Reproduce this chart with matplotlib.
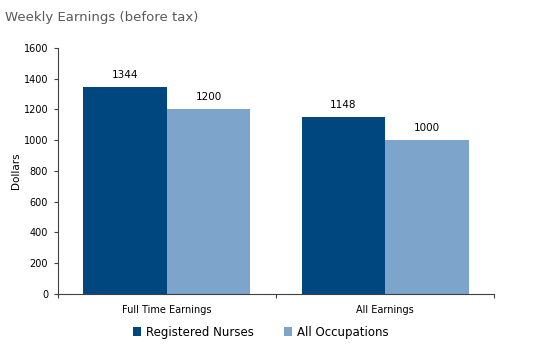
import numpy as np
import matplotlib.pyplot as plt

categories = ['Full Time Earnings', 'All Earnings']
nurses = [1344, 1148]
all_occ = [1200, 1000]
yticks = [0, 200, 400, 600, 800, 1000, 1200, 1400, 1600]

dark = '#00477F'
light = '#7DA4CA'

fig = plt.figure(figsize=(5.57, 3.47), dpi=100)
ax = fig.add_axes([0.104, 0.153, 0.783, 0.709])

x = np.arange(len(categories))
w = 0.383
b1 = ax.bar(x - w / 2, nurses, w, color=dark, label='Registered Nurses')
b2 = ax.bar(x + w / 2, all_occ, w, color=light, label='All Occupations')

for bars in (b1, b2):
    for r in bars:
        ax.text(r.get_x() + r.get_width() / 2, r.get_height() + 45, f'{int(r.get_height())}',
                ha='center', va='bottom', fontsize=7.5, color='black')

ax.set_xlim(-0.5, 1.5)
ax.set_ylim(0, 1600)
ax.set_yticks(yticks)
ax.tick_params(axis='y', labelsize=7, length=3, width=0.8, color='#404040', pad=4)
ax.set_xticks([-0.5, 0.5, 1.5])
ax.set_xticklabels([])
ax.set_xticks(x, minor=True)
ax.set_xticklabels(categories, minor=True)
ax.tick_params(axis='x', which='major', length=3, width=0.8, color='#404040')
ax.tick_params(axis='x', which='minor', length=0, labelsize=7, pad=8)

for s in ['top', 'right']:
    ax.spines[s].set_visible(False)
for s in ['left', 'bottom']:
    ax.spines[s].set_color('#404040')
    ax.spines[s].set_linewidth(0.8)

ax.set_ylabel('Dollars', fontsize=7.5, labelpad=2)

fig.text(0.009, 0.95, 'Weekly Earnings (before tax)', fontsize=9.5, color='#595959', va='center')

fig.legend(handles=[b1, b2], loc='center', bbox_to_anchor=(0.468, 0.043), ncol=2, frameon=False,
           fontsize=8.5, handlelength=0.7, handleheight=0.7, columnspacing=2.6, handletextpad=0.4)

fig.savefig('out.png', dpi=100)
